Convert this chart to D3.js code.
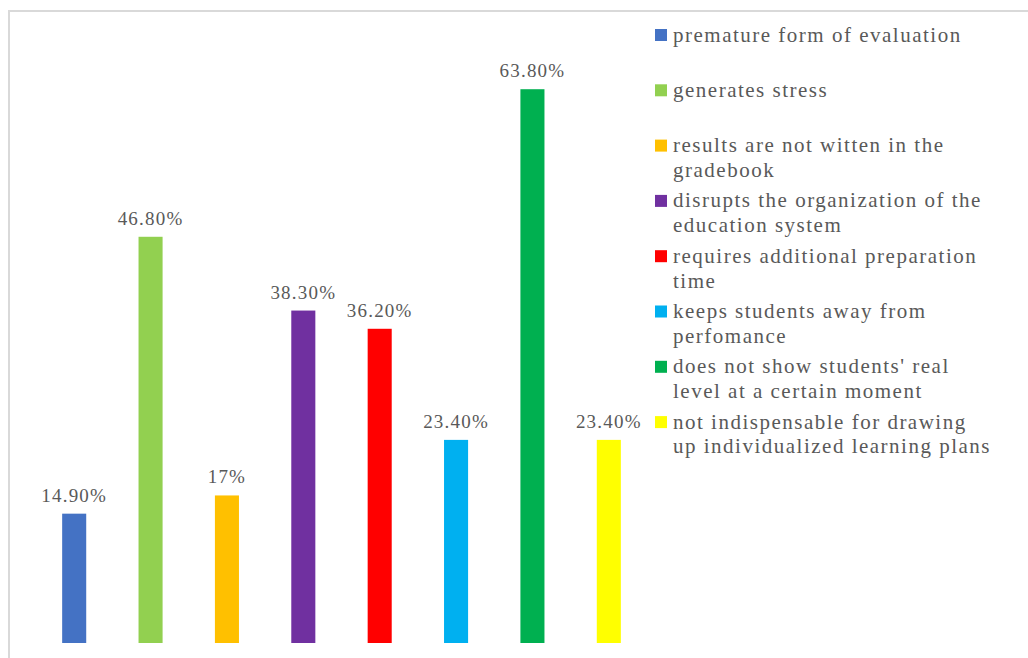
<!DOCTYPE html>
<html lang="en">
<head>
  <meta charset="UTF-8" />
  <title>Reasons against formative assessment</title>
  <script src="https://d3js.org/d3.v7.min.js"></script>
  <style>
    body { margin: 0; background: #fff; }
    svg { display: block; }
  </style>
</head>
<body>
  <svg id="chart" width="1028" height="658"></svg>
  <script>
    // data
    const categories = [
      "premature form of evaluation",
      "generates stress",
      "results are not witten in the gradebook",
      "disrupts the organization of the education system",
      "requires additional preparation time",
      "keeps students away from perfomance",
      "does not show students' real level at a certain moment",
      "not indispensable for drawing up individualized learning plans"
    ];
    const values = [14.9, 46.8, 17, 38.3, 36.2, 23.4, 63.8, 23.4];
    const valueLabels = ["14.90%", "46.80%", "17%", "38.30%", "36.20%", "23.40%", "63.80%", "23.40%"];
    const colors = ["#4472c4", "#92d050", "#ffc000", "#7030a0", "#ff0000", "#00b0f0", "#00b050", "#ffff00"];

    const FONT = "'Liberation Serif'";
    const TEXT_COLOR = "#595959";

    const svg = d3.select("#chart");

    // chart frame (runs off the right and bottom edge)
    svg.append("rect")
      .attr("x", 9).attr("y", 11)
      .attr("width", 1040).attr("height", 670)
      .attr("fill", "none")
      .attr("stroke", "#d9d9d9")
      .attr("stroke-width", 2);

    const x = d3.scaleBand()
      .domain(categories)
      .range([36, 647])
      .paddingInner(0.685)
      .paddingOuter(0.3425);

    const y = d3.scaleLinear()
      .domain([0, 70])
      .range([643, 35.4]);

    const plot = svg.append("g");

    plot.selectAll(".bar")
      .data(categories)
      .join("rect")
      .attr("class", "bar")
      .attr("x", d => x(d))
      .attr("width", x.bandwidth())
      .attr("y", (d, i) => y(values[i]))
      .attr("height", (d, i) => y(0) - y(values[i]))
      .attr("fill", (d, i) => colors[i]);

    plot.selectAll(".label")
      .data(categories)
      .join("text")
      .attr("class", "label")
      .attr("x", d => x(d) + x.bandwidth() / 2)
      .attr("y", (d, i) => y(values[i]) - 12)
      .attr("text-anchor", "middle")
      .style("font-family", FONT)
      .style("font-size", "19px")
      .style("letter-spacing", "1.2px")
      .style("fill", TEXT_COLOR)
      .text((d, i) => valueLabels[i]);

    // legend, wrapped to a fixed width
    const legend = svg.append("g").attr("class", "legend");
    const maxW = 321, lineH = 24.8, itemH = 55.3;

    categories.forEach((c, i) => {
      const cy = 35 + i * itemH;
      const item = legend.append("g");
      item.append("rect")
        .attr("x", 655).attr("y", cy - 6)
        .attr("width", 12).attr("height", 12)
        .attr("fill", colors[i]);

      const txt = item.append("text")
        .attr("x", 673).attr("y", cy + 6.5)
        .style("font-family", FONT)
        .style("font-size", "21px")
        .style("letter-spacing", "1.5px")
        .style("fill", TEXT_COLOR);
      const words = c.split(" ");
      let line = [];
      let tspan = txt.append("tspan").attr("x", 673).attr("dy", 0);
      words.forEach(w => {
        line.push(w);
        tspan.text(line.join(" "));
        if (tspan.node().getComputedTextLength() > maxW && line.length > 1) {
          line.pop();
          tspan.text(line.join(" "));
          line = [w];
          tspan = txt.append("tspan").attr("x", 673).attr("dy", lineH).text(w);
        }
      });
    });
  </script>
</body>
</html>
